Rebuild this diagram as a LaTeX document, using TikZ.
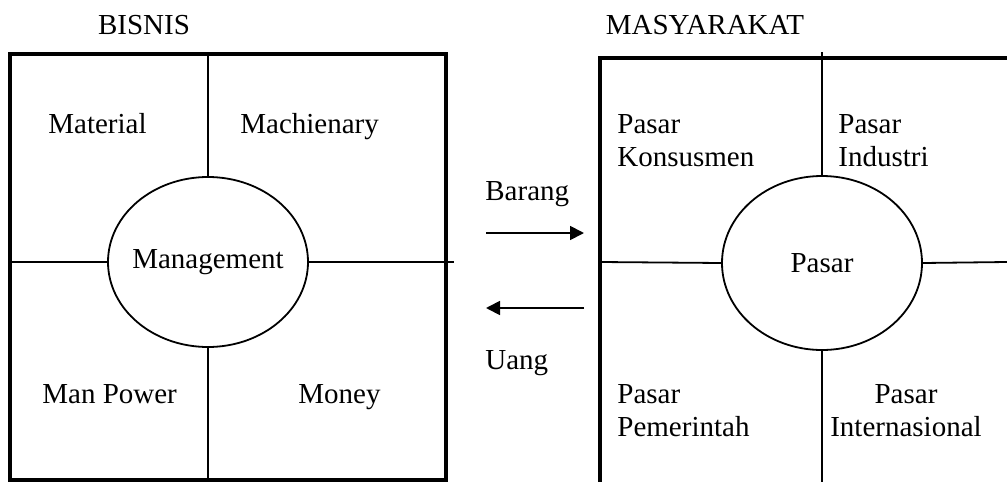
\documentclass[tikz,border=0pt]{standalone}
\usepackage{fontspec}
\setmainfont{Liberation Serif}
\usetikzlibrary{arrows.meta,shapes.geometric,positioning}

\begin{document}
\begin{tikzpicture}[x=0.5pt,y=-0.5pt,font=\fontsize{14.5}{16.5}\selectfont]

    \tikzstyle{frame}=[line width=2pt]
    \tikzstyle{split}=[line width=0.9pt]
    \tikzstyle{core}=[ellipse,draw,line width=0.9pt,inner ysep=0pt,inner xsep=-6pt,minimum width=100pt]
    \tikzstyle{lbl}=[inner sep=0pt,anchor=base west,align=left]
    \tikzstyle{flow}=[line width=0.9pt,-{Triangle[length=7pt,width=7pt]}]

    \useasboundingbox (0,0) rectangle (1007,482);

    % BISNIS
    \node[inner sep=0pt,anchor=base] (bisnis) at (144,34) {BISNIS};
    \draw[frame] (10,54) rectangle (446,480);
    \node[core,minimum height=85pt] (mgmt) at (208,262) {Management};
    \coordinate (b_top)   at (208,54);
    \coordinate (b_bot)   at (208,480);
    \coordinate (b_left)  at (10,262);
    \coordinate (b_right) at (454,262);
    \draw[split] (b_top) -- (mgmt.north)
                 (mgmt.south) -- (b_bot)
                 (b_left) -- (mgmt.west)
                 (mgmt.east) -- (b_right);
    \node[lbl] (material)  at (48,133)  {Material};
    \node[lbl] (machinery) at (240,133) {Machienary};
    \node[lbl] (manpower)  at (42,403)  {Man Power};
    \node[lbl] (money)     at (298,403) {Money};

    % MASYARAKAT
    \node[inner sep=0pt,anchor=base] (masy) at (705,34) {MASYARAKAT};
    \coordinate (m_corner) at (600,58);
    \draw[frame] (1007,58) -- (m_corner) -- (600,482);
    \node[core,minimum height=87pt] (pasar) at (822,263) {Pasar};
    \coordinate (m_top)   at (822,52);
    \coordinate (m_bot)   at (822,482);
    \coordinate (m_left)  at (600,262);
    \coordinate (m_right) at (1007,262);
    \draw[split] (m_top) -- (pasar.north)
                 (pasar.south) -- (m_bot)
                 (m_left) -- (pasar.west)
                 (pasar.east) -- (m_right);
    \node[lbl] (konsumen)   at (617,166) {Pasar\\Konsusmen};
    \node[lbl] (industri)   at (838,166) {Pasar\\Industri};
    \node[lbl] (pemerintah) at (617,436) {Pasar\\Pemerintah};
    \node[inner sep=0pt,anchor=base,align=center] (intl) at (906,436) {Pasar\\Internasional};

    % arus
    \coordinate (go_a) at (486,233);
    \coordinate (go_b) at (584,233);
    \coordinate (back_a) at (584,308);
    \coordinate (back_b) at (486,308);
    \draw[flow] (go_a) -- (go_b);
    \draw[flow] (back_a) -- (back_b);
    \node[lbl] (barang) at (485,200) {Barang};
    \node[lbl] (uang)   at (485,369) {Uang};

\end{tikzpicture}
\end{document}
